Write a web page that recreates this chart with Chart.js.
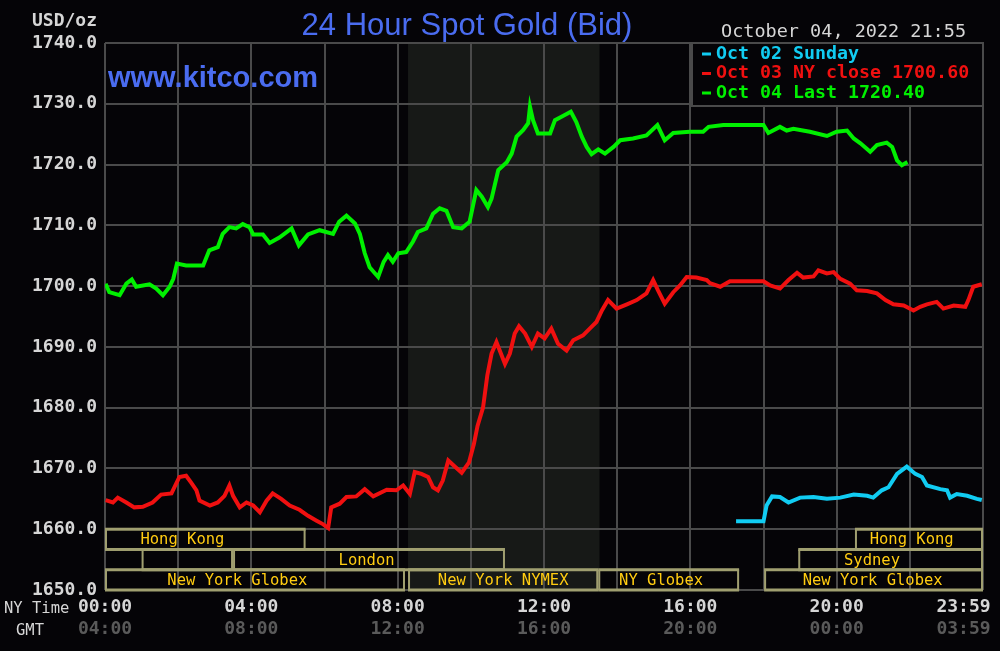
<!DOCTYPE html>
<html>
<head>
<meta charset="utf-8">
<title>24 Hour Spot Gold (Bid)</title>
<script src="https://cdn.jsdelivr.net/npm/chart.js@4.4.0/dist/chart.umd.min.js"></script>
<style>
  html, body { margin: 0; padding: 0; background: #050407; }
  canvas { display: block; }
</style>
</head>
<body>
<canvas id="goldChart" width="1000" height="651"></canvas>
<script>
// ============================================
// DATA
// ============================================
// Times are NY minutes after midnight, prices in USD/oz

// Oct 02 (Sunday evening open)
const oct02Minutes = [1035, 1080, 1085, 1094, 1107, 1121, 1140, 1162, 1184, 1206, 1228, 1250, 1260,
  1274, 1285, 1299, 1315, 1329, 1340, 1348, 1370, 1381, 1386, 1397, 1414, 1430, 1438];
const oct02Prices = [1661.3, 1661.3, 1663.9, 1665.4, 1665.3, 1664.4, 1665.2, 1665.3, 1665.0, 1665.2, 1665.7, 1665.5, 1665.2,
  1666.4, 1666.9, 1669.1, 1670.3, 1669.1, 1668.6, 1667.2, 1666.6, 1666.4, 1665.2, 1665.8, 1665.5, 1665.0, 1664.8];

// Oct 03 (NY close 1700.60)
const oct03Minutes = [1, 13, 21, 35, 48, 62, 78, 92, 109, 122, 133, 141, 150, 155, 172, 185, 196, 204, 210,
  221, 232, 243, 254, 265, 275, 289, 303, 319, 333, 347, 358, 366, 371, 385, 396, 412, 426, 440, 462,
  478, 489, 500, 508, 519, 530, 538, 546, 554, 563, 575, 585, 597, 605, 611, 620, 627, 634, 642, 656,
  664, 672, 679, 689, 700, 710, 721, 732, 743, 757, 768, 784, 795, 806, 815, 825, 839, 856, 872, 888,
  899, 907, 918, 932, 943, 954, 970, 987, 992, 1009, 1025, 1080, 1091, 1107, 1121, 1135, 1145, 1162,
  1170, 1184, 1195, 1206, 1222, 1233, 1250, 1266, 1280, 1293, 1310, 1326, 1337, 1348, 1364, 1375,
  1392, 1411, 1416, 1424, 1438];
const oct03Prices = [1664.8, 1664.4, 1665.2, 1664.4, 1663.6, 1663.7, 1664.4, 1665.7, 1665.9, 1668.6, 1668.8, 1667.7, 1666.4, 1664.7, 1663.9, 1664.4, 1665.5, 1667.2, 1665.5,
  1663.6, 1664.4, 1663.9, 1662.8, 1664.7, 1665.9, 1665.0, 1663.9, 1663.2, 1662.2, 1661.4, 1660.8, 1660.2, 1663.6, 1664.2, 1665.3, 1665.4, 1666.6, 1665.4, 1666.5,
  1666.4, 1667.2, 1665.8, 1669.4, 1669.1, 1668.6, 1666.9, 1666.4, 1668.0, 1671.3, 1670.2, 1669.3, 1671.0, 1674.0, 1677.0, 1680.0, 1685.3, 1688.9, 1690.8, 1687.2,
  1688.9, 1692.2, 1693.4, 1692.2, 1690.0, 1692.2, 1691.4, 1693.0, 1690.5, 1689.4, 1691.1, 1691.9, 1693.0, 1694.1, 1696.0, 1697.7, 1696.3, 1697.0, 1697.7, 1698.8,
  1701.0, 1699.3, 1697.1, 1699.0, 1700.1, 1701.5, 1701.4, 1701.0, 1700.5, 1699.9, 1700.8, 1700.8, 1700.1, 1699.6, 1701.0, 1702.2, 1701.4, 1701.6,
  1702.6, 1702.1, 1702.3, 1701.2, 1700.4, 1699.3, 1699.2, 1698.8, 1697.7, 1697.0, 1696.8, 1696.0, 1696.6, 1697.0, 1697.4, 1696.3,
  1696.8, 1696.6, 1697.7, 1699.9, 1700.3];

// Oct 04 (last 1720.40)
const oct04Minutes = [1, 7, 24, 35, 44, 51, 73, 84, 95, 106, 112, 118, 133, 161, 171, 185, 193, 204, 215,
  226, 237, 243, 259, 270, 286, 306, 318, 333, 352, 374, 384, 396, 410, 418, 426, 434, 448, 457, 464,
  472, 481, 494, 505, 513, 527, 538, 549, 560, 571, 585, 598, 609, 618, 628, 634, 645, 659, 667, 675,
  686, 694, 697, 702, 710, 730, 738, 751, 764, 773, 782, 790, 798, 809, 820, 834, 845, 866, 888, 906,
  918, 932, 959, 981, 990, 1014, 1080, 1088, 1107, 1118, 1129, 1156, 1184, 1200, 1217, 1228, 1239,
  1255, 1266, 1282, 1291, 1299, 1307, 1316];
const oct04Prices = [1700.4, 1699.0, 1698.5, 1700.4, 1701.1, 1699.9, 1700.3, 1699.6, 1698.5, 1699.9, 1701.2, 1703.7, 1703.4, 1703.4, 1705.9, 1706.4, 1708.6, 1709.7, 1709.5,
  1710.2, 1709.7, 1708.5, 1708.5, 1707.1, 1708.0, 1709.5, 1706.7, 1708.5, 1709.2, 1708.6, 1710.6, 1711.6, 1710.3, 1708.6, 1705.4, 1703.1, 1701.5, 1704.0, 1705.1,
  1704.0, 1705.4, 1705.6, 1707.3, 1708.9, 1709.5, 1711.9, 1712.8, 1712.4, 1709.7, 1709.5, 1710.6, 1715.8, 1714.7, 1713.0, 1714.4, 1719.1, 1720.4, 1721.8, 1724.6,
  1725.7, 1726.8, 1729.5, 1727.3, 1725.1, 1725.1, 1727.3, 1728.0, 1728.7, 1727.0, 1724.6, 1722.9, 1721.7, 1722.5, 1721.8, 1722.9, 1724.0, 1724.3, 1724.8, 1726.5,
  1724.0, 1725.2, 1725.4, 1725.4, 1726.2, 1726.5, 1726.5, 1725.2, 1726.2, 1725.6, 1725.9, 1725.4, 1724.7, 1725.4, 1725.6, 1724.3, 1723.5,
  1722.1, 1723.2, 1723.6, 1722.9, 1720.7, 1719.9, 1720.4];

// Time axis labels (NY time and GMT)
const tickMinutes = [0, 240, 480, 720, 960, 1200, 1439];
const nyTickLabels = ['00:00', '04:00', '08:00', '12:00', '16:00', '20:00', '23:59'];
const gmtTickLabels = ['04:00', '08:00', '12:00', '16:00', '20:00', '00:00', '03:59'];

// Market sessions along the bottom of the plot (row 0 = top row)
const sessionNames = ['Hong Kong', '', 'London', 'New York Globex', 'New York NYMEX', 'NY Globex', 'New York Globex', 'Sydney', 'Hong Kong'];
const sessionStart = [0, 60, 210, 0, 497, 809, 1081, 1137, 1230];
const sessionEnd = [329, 210, 656, 492, 809, 1040, 1440, 1440, 1440];
const sessionRow = [0, 1, 1, 2, 2, 2, 2, 1, 0];
const sessionLabelAt = [127, null, 429, 217, 653, 912, 1259, 1258, 1323];

// NYMEX pit hours, shaded
const comexOpen = 497;
const comexClose = 811;

// ============================================
// STYLE
// ============================================
const BG = '#050407';
const GRID = '#4a4a4a';
const LABEL = '#d6d6d6';
const GMT_LABEL = '#5a5a5a';
const BLUE = '#4a6cf0';
const BAND_LINE = '#a09f70';
const BAND_TEXT = '#ffcc11';
const MONO = '"DejaVu Sans Mono", "Liberation Mono", monospace';

function toPoints(minutes, prices) {
    return minutes.map((m, i) => ({ x: m, y: prices[i] }));
}

// ============================================
// EXTRA DRAWING (shading, sessions, legend, header)
// ============================================
function drawSessions(chart) {
    const { ctx, scales: { x, y } } = chart;
    // three rows between 1660 and 1650
    const rows = [0, 1, 2, 3].map(i => y.getPixelForValue(1660 - i * 10 / 3));
    ctx.save();
    ctx.font = '15.5px ' + MONO;
    ctx.textAlign = 'center';
    ctx.textBaseline = 'middle';
    sessionNames.forEach((name, i) => {
        const x0 = x.getPixelForValue(sessionStart[i]);
        const x1 = x.getPixelForValue(sessionEnd[i]);
        const top = rows[sessionRow[i]];
        const bot = rows[sessionRow[i] + 1];
        ctx.fillStyle = BAND_LINE;
        ctx.fillRect(x0, top - 1.5, x1 - x0, 3);
        ctx.fillRect(x0, bot - 1.5, x1 - x0, 3);
        ctx.fillRect(x0, top, 2, bot - top);
        ctx.fillRect(x1 - 2, top, 2, bot - top);
        if (name) {
            ctx.fillStyle = BAND_TEXT;
            ctx.fillText(name, x.getPixelForValue(sessionLabelAt[i]), (top + bot) / 2 + 1);
        }
    });
    ctx.restore();
}

function drawLegendBox(chart) {
    const { ctx, chartArea: a } = chart;
    const left = 692, bottom = 106;
    ctx.save();
    ctx.fillStyle = BG;
    ctx.fillRect(left, a.top, a.right - left, bottom - a.top);
    ctx.strokeStyle = GRID;
    ctx.lineWidth = 2;
    ctx.strokeRect(left, a.top, a.right - left, bottom - a.top);
    ctx.font = 'bold 18.3px ' + MONO;
    ctx.textAlign = 'left';
    ctx.textBaseline = 'middle';
    chart.data.datasets.forEach((ds, i) => {
        const ty = 54 + i * 19.5;
        ctx.fillStyle = ds.borderColor;
        ctx.fillRect(702, ty - 1.5, 9, 3);
        ctx.fillText(ds.label, 716, ty);
    });
    ctx.restore();
}

function drawHeader(chart) {
    const ctx = chart.ctx;
    ctx.save();
    ctx.fillStyle = BLUE;
    ctx.textBaseline = 'alphabetic';
    ctx.textAlign = 'center';
    ctx.font = '31px "Liberation Sans", Arial, sans-serif';
    ctx.fillText('24 Hour Spot Gold (Bid)', 467, 35);
    ctx.textAlign = 'left';
    ctx.font = 'bold 29px "Liberation Sans", Arial, sans-serif';
    ctx.fillText('www.kitco.com', 108, 87);

    ctx.fillStyle = LABEL;
    ctx.textBaseline = 'middle';
    ctx.textAlign = 'right';
    ctx.font = 'bold 18px ' + MONO;
    ctx.fillText('USD/oz', 97, 21);
    ctx.textAlign = 'left';
    ctx.font = '18.5px ' + MONO;
    ctx.fillText('October 04, 2022 21:55', 721, 32);
    ctx.font = '15.5px ' + MONO;
    ctx.fillText('NY Time', 4, 609);
    ctx.fillText('GMT', 16, 631);
    ctx.restore();
}

const kitcoDecor = {
    id: 'kitcoDecor',
    beforeDraw(chart) {
        const { ctx, chartArea: a, scales: { x } } = chart;
        ctx.save();
        ctx.fillStyle = BG;
        ctx.fillRect(0, 0, chart.width, chart.height);
        const x0 = x.getPixelForValue(comexOpen);
        const x1 = x.getPixelForValue(comexClose);
        ctx.fillStyle = '#171917';
        ctx.fillRect(x0, a.top, x1 - x0, a.bottom - a.top);
        ctx.restore();
    },
    afterDatasetsDraw(chart) {
        drawSessions(chart);
        drawLegendBox(chart);
    },
    afterDraw(chart) {
        drawHeader(chart);
    }
};

// label axes share the same time range; the 23:59 label is pulled inside the frame like the original
function labelAxis(labels, color, weight, padding, height) {
    return {
        type: 'linear',
        position: 'bottom',
        min: 0,
        max: 1440,
        weight: weight,
        grid: { display: false, drawTicks: false },
        border: { display: false },
        afterBuildTicks: s => {
            s.ticks = tickMinutes.map(v => ({ value: v === 1439 ? 1408 : v }));
        },
        ticks: {
            autoSkip: false,
            maxRotation: 0,
            padding: padding,
            color: color,
            font: { family: MONO, size: 18, weight: 'bold' },
            callback: (v, i) => labels[i]
        },
        afterFit: s => {
            s.height = height;
            s.paddingLeft = 0;
            s.paddingRight = 0;
        }
    };
}

// ============================================
// CHART
// ============================================
const ctx = document.getElementById('goldChart').getContext('2d');

new Chart(ctx, {
    type: 'line',
    data: {
        datasets: [
            { label: 'Oct 02 Sunday', data: toPoints(oct02Minutes, oct02Prices), borderColor: '#11ccf2' },
            { label: 'Oct 03 NY close 1700.60', data: toPoints(oct03Minutes, oct03Prices), borderColor: '#f01010' },
            { label: 'Oct 04 Last 1720.40', data: toPoints(oct04Minutes, oct04Prices), borderColor: '#00f000' }
        ]
    },
    options: {
        responsive: false,
        animation: false,
        devicePixelRatio: 1,
        layout: { padding: { top: 43, right: 17, bottom: 0, left: 0 } },
        elements: {
            line: { borderWidth: 4, tension: 0, borderJoinStyle: 'miter' },
            point: { radius: 0 }
        },
        plugins: {
            legend: { display: false },
            tooltip: { enabled: false }
        },
        scales: {
            x: {
                type: 'linear',
                position: 'bottom',
                min: 0,
                max: 1440,
                weight: 0,
                ticks: { display: false, stepSize: 120 },
                grid: { color: GRID, lineWidth: 2, drawTicks: false },
                border: { display: false },
                afterFit: s => {
                    s.height = 0;
                    s.paddingLeft = 0;
                    s.paddingRight = 0;
                }
            },
            xNY: labelAxis(nyTickLabels, LABEL, 1, 7, 28),
            xGMT: labelAxis(gmtTickLabels, GMT_LABEL, 2, 1, 33),
            y: {
                min: 1650,
                max: 1740,
                ticks: {
                    stepSize: 10,
                    padding: 8,
                    color: LABEL,
                    font: { family: MONO, size: 18, weight: 'bold' },
                    callback: v => v.toFixed(1)
                },
                grid: { color: GRID, lineWidth: 2, drawTicks: false },
                border: { display: false },
                afterFit: s => {
                    s.width = 105;
                    s.paddingTop = 0;
                    s.paddingBottom = 0;
                }
            }
        }
    },
    plugins: [kitcoDecor]
});
</script>
</body>
</html>
